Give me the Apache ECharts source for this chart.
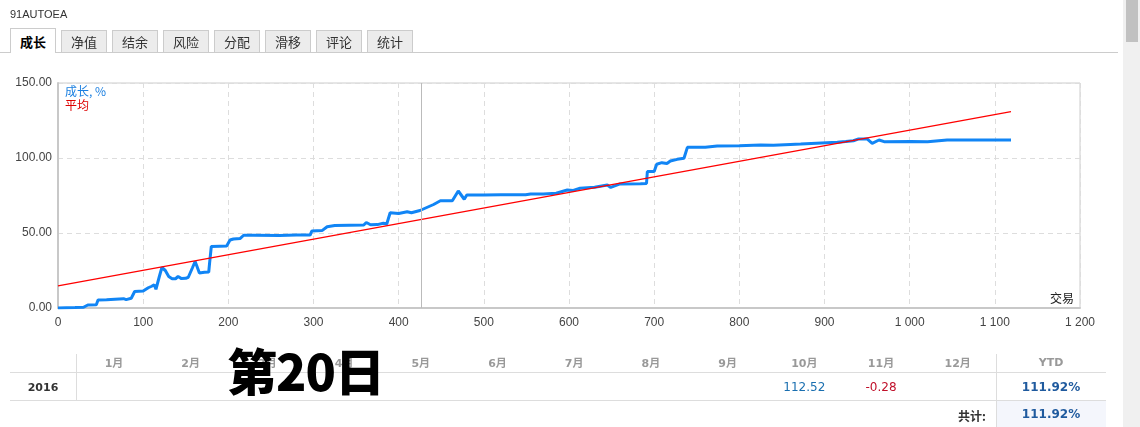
<!DOCTYPE html>
<html>
<head>
<meta charset="utf-8">
<script src="https://cdn.jsdelivr.net/npm/echarts@6/dist/echarts.min.js"></script>
<style>
  html,body{margin:0;padding:0;background:#fff;width:1140px;height:427px;overflow:hidden;font-family:"DejaVu Sans","Noto Sans CJK SC",sans-serif;}
  #chart{position:absolute;left:0;top:0;width:1140px;height:427px;}
  .abs{position:absolute;}
  .title{left:10px;top:8px;font-size:11px;color:#333;font-family:"Liberation Sans","Noto Sans CJK SC",sans-serif;}
  .tab{position:absolute;top:30px;height:21px;width:44px;border:1px solid #ccc;border-bottom:none;background:#ececec;font-size:13px;color:#333;text-align:center;line-height:22px;font-family:"Noto Sans CJK SC",sans-serif;}
  .tab.on{background:#fff;top:28px;height:24px;font-weight:bold;color:#000;line-height:26px;}
  .hline{position:absolute;height:1px;background:#ddd;}
  .vline{position:absolute;width:1px;background:#ddd;}
  .cell{position:absolute;font-size:11px;transform:translate(-50%,-50%);white-space:nowrap;}
  .mh{color:#999;font-weight:bold;font-family:"DejaVu Sans","Noto Sans CJK SC",sans-serif;font-size:11px;}
</style>
</head>
<body>
<div id="chart"></div>
<div id="overlay"></div>
<script>
// ---- data ----
const growthData = [
  [0,0],[20,0.3],[30,0.5],[35,2],[45,2.2],[47,5.3],[57,5.5],[59,6.2],[77,6.2],[80,5.6],[86,6.5],[90,11],
  [100,11.3],[102,11.6],[106,13.5],[110,14.5],[113,15.5],[115,12.5],[119,21],[122,27],[126,25],[130,21],
  [134,19.5],[138,19.5],[141,21],[145,19.6],[150,19.8],[153,20.5],[158,27],[161,31],[163,28],[166,23.3],
  [172,23.8],[177,24],[178,30],[180,41],[190,41.2],[198,41.3],[202,45.3],[206,46],[214,46.4],[218,48.5],
  [230,48.5],[260,48.3],[280,48.6],[296,48.6],[298,51.3],[310,51.6],[316,54.2],[325,55],[359,55.3],
  [362,57],[367,55.5],[375,55.6],[382,56.5],[386,56],[388,57],[390,63.5],[400,63],[410,64.2],[415,63.5],
  [425,65],[433,67],[441,69],[449,71.5],[463,71.5],[470,78],[477,72.5],[480,75.3],[500,75.3],[520,75.5],
  [549,75.5],[555,76],[570,76],[585,76.5],[598,78.7],[605,78.4],[613,79.8],[630,80.5],[645,82],[649,80.4],
  [660,82.7],[684,82.8],[691,83],[692,91],[700,91],[703,95.8],[709,96.9],[715,96.3],[719,98],[727,99.1],
  [735,99.8],[739,107.1],[760,107.2],[774,108],[800,108.2],[825,108.7],[840,108.5],[860,109],[872,109.3],
  [903,110.2],[915,110.5],[925,111],[934,111.5],[940,112.7],[950,112.7],[956,109.8],[964,112],[970,110.9],
  [1001,111],[1021,110.9],[1044,112],[1119,112]
];
const averageData = [[0,14.7],[1119,130.9]];
const cursorX = 427;
const xTicks = {min:0, max:1200, interval:100};
const yTicks = {min:0, max:150, interval:50};
const tabs = ["成长","净值","结余","风险","分配","滑移","评论","统计"];
const months = ["1月","2月","3月","4月","5月","6月","7月","8月","9月","10月","11月","12月"];
const rowYear = "2016";
const monthValues = {"10月":"112.52","11月":"-0.28"};
const ytd = "111.92%";
const total = "111.92%";

// ---- chart ----
const chart = echarts.init(document.getElementById('chart'));
const axisFont = {color:'#444', fontSize:12, fontFamily:'Liberation Sans'};
chart.setOption({
  animation:false,
  backgroundColor:'#fff',
  grid:{left:58, top:83, width:1022, height:225, show:true, borderColor:'#ccc', borderWidth:1},
  xAxis:{type:'value', min:xTicks.min, max:xTicks.max, interval:xTicks.interval,
    axisLine:{show:true, onZero:false, lineStyle:{color:'#c8c8c8', width:2}},
    axisTick:{show:false},
    axisLabel:Object.assign({margin:9,
      formatter:v=> v>=1000 ? String(v).replace(/(\d)(\d{3})$/,'$1 $2') : String(v)}, axisFont),
    splitLine:{show:true, lineStyle:{color:'#ddd', type:[5,4]}}},
  yAxis:{type:'value', min:yTicks.min, max:yTicks.max, interval:yTicks.interval,
    axisLine:{show:true, lineStyle:{color:'#c8c8c8', width:2}},
    axisTick:{show:false},
    axisLabel:Object.assign({margin:6, formatter:v=>v.toFixed(2)}, axisFont),
    splitLine:{show:true, lineStyle:{color:'#ddd', type:[5,4]}}},
  series:[
    {type:'line', data:growthData, showSymbol:false, lineStyle:{color:'#1185f5', width:3}, z:3,
      markLine:{silent:true, symbol:'none', label:{show:false}, lineStyle:{color:'#bbb', type:'solid', width:1},
        data:[{xAxis:cursorX}]}},
    {type:'line', data:averageData, showSymbol:false, lineStyle:{color:'#ff0000', width:1.3}, z:4}
  ],
  graphic:[
    {type:'text', left:65, top:85, style:{text:'成长, %', fill:'#1a7fe0', fontSize:12, fontFamily:'Noto Sans CJK SC'}},
    {type:'text', left:65, top:99, style:{text:'平均', fill:'#d00', fontSize:12, fontFamily:'Noto Sans CJK SC'}},
    {type:'text', left:1050, top:292, style:{text:'交易', fill:'#222', fontSize:12, fontFamily:'Noto Sans CJK SC'}}
  ]
});

// ---- page chrome ----
const ov = document.getElementById('overlay');
function add(html){ ov.insertAdjacentHTML('beforeend', html); }
add('<div class="abs title">91AUTOEA</div>');
add('<div class="hline" style="left:0;top:52px;width:1118px;background:#ccc"></div>');
tabs.forEach((t,i)=>{
  add(`<div class="tab${i===0?' on':''}" style="left:${10+i*51}px">${t}</div>`);
});
// scrollbar
add('<div class="abs" style="left:1123px;top:0;width:17px;height:427px;background:#f0f0f0"></div>');
add('<div class="abs" style="left:1126px;top:0;width:12px;height:42px;background:#c1c1c1"></div>');
// table
add('<div class="hline" style="left:10px;top:372px;width:1096px"></div>');
add('<div class="hline" style="left:10px;top:400px;width:1096px"></div>');
add('<div class="vline" style="left:76px;top:354px;height:46px"></div>');
add('<div class="abs" style="left:997px;top:401px;width:109px;height:26px;background:#f4f6fc"></div>');
add('<div class="vline" style="left:996px;top:354px;height:73px"></div>');
months.forEach((m,i)=>{
  const cx = 114 + i*76.7;
  add(`<div class="cell mh" style="left:${cx}px;top:362px">${m}</div>`);
  if(monthValues[m]){
    const v = monthValues[m];
    const col = v.startsWith('-') ? '#c0102a' : '#1a6fb0';
    add(`<div class="cell" style="left:${cx}px;top:387px;color:${col};font-family:'DejaVu Sans';font-size:12px">${v}</div>`);
  }
});
add('<div class="cell mh" style="left:1051px;top:362px">YTD</div>');
add(`<div class="cell" style="left:43px;top:387px;font-weight:bold;color:#333;font-size:11px">${rowYear}</div>`);
add(`<div class="cell" style="left:1051px;top:387px;font-weight:bold;color:#1f5a9e;font-size:12px">${ytd}</div>`);
add('<div class="abs" style="right:154px;top:407px;font-weight:bold;color:#333;font-size:12px;font-family:\'Noto Sans CJK SC\'">共计:</div>');
add(`<div class="cell" style="left:1051px;top:414px;font-weight:bold;color:#1f5a9e;font-size:12px">${total}</div>`);
// big overlay label
add('<div class="abs" style="left:227px;top:340px;font-size:50px;line-height:58px;font-weight:900;color:#000;font-family:\'Noto Sans CJK SC\';white-space:nowrap;letter-spacing:-1px">第20日</div>');
</script>
</body>
</html>
